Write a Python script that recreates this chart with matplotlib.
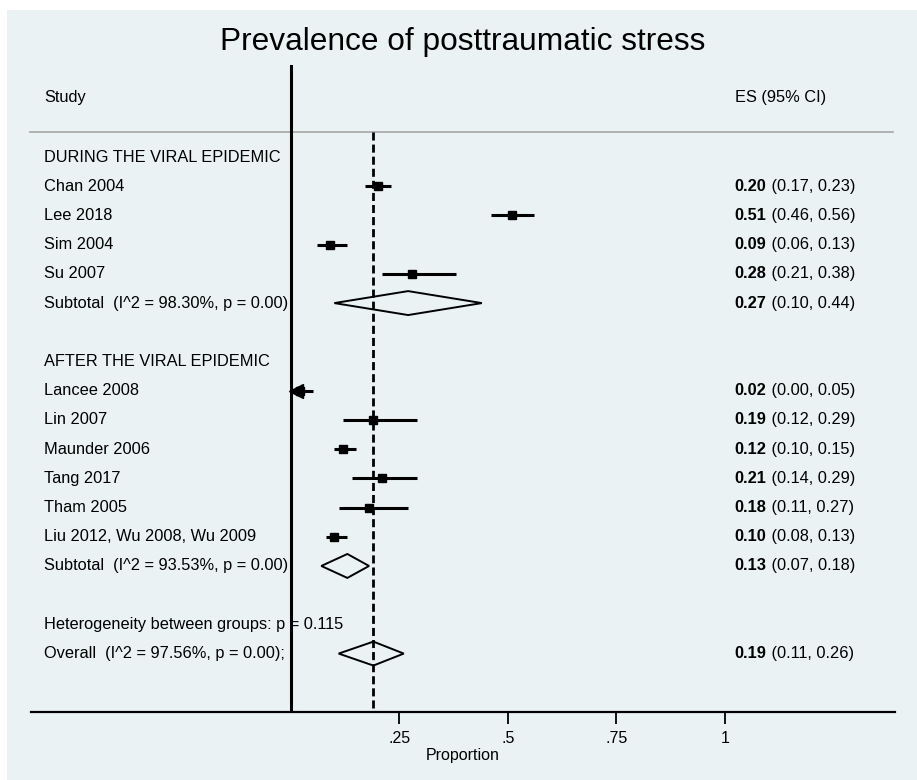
import matplotlib
matplotlib.use("Agg")
import matplotlib.pyplot as plt
import matplotlib.patches as mpatches
import numpy as np

plt.rcParams['font.family'] = ['Liberation Sans', 'DejaVu Sans']

# --- study data ---
group1_label = "DURING THE VIRAL EPIDEMIC"
group1_studies = ["Chan 2004", "Lee 2018", "Sim 2004", "Su 2007"]
group1_es = [0.20, 0.51, 0.09, 0.28]
group1_lo = [0.17, 0.46, 0.06, 0.21]
group1_hi = [0.23, 0.56, 0.13, 0.38]
group1_sub = (0.27, 0.10, 0.44)
group1_sub_label = "Subtotal  (I^2 = 98.30%, p = 0.00)"

group2_label = "AFTER THE VIRAL EPIDEMIC"
group2_studies = ["Lancee 2008", "Lin 2007", "Maunder 2006", "Tang 2017",
                  "Tham 2005", "Liu 2012, Wu 2008, Wu 2009"]
group2_es = [0.02, 0.19, 0.12, 0.21, 0.18, 0.10]
group2_lo = [0.00, 0.12, 0.10, 0.14, 0.11, 0.08]
group2_hi = [0.05, 0.29, 0.15, 0.29, 0.27, 0.13]
group2_sub = (0.13, 0.07, 0.18)
group2_sub_label = "Subtotal  (I^2 = 93.53%, p = 0.00)"

het_label = "Heterogeneity between groups: p = 0.115"
overall = (0.19, 0.11, 0.26)
overall_label = "Overall  (I^2 = 97.56%, p = 0.00);"

xticks = [0.25, 0.5, 0.75, 1.0]
xticklabels = [".25", ".5", ".75", "1"]

BG = "#EAF2F3"
W, H = 917, 780
fig = plt.figure(figsize=(W / 100, H / 100), dpi=100, facecolor="white")
fig.patches.append(mpatches.Rectangle((7 / W, 0), 1, 1 - 10 / H, transform=fig.transFigure,
                                      facecolor=BG, edgecolor="none", zorder=-10))

ax = fig.add_axes([31 / W, (H - 712) / H, 864 / W, (712 - 10) / H])
ax.set_facecolor("none")
ax.set_xlim(-0.599, 1.392)
ax.set_ylim(19.0, -5.034)
for s in ["top", "right", "left"]:
    ax.spines[s].set_visible(False)
ax.spines["bottom"].set_linewidth(1.6)
ax.set_yticks([])
ax.set_xticks(xticks)
ax.set_xticklabels(xticklabels, fontsize=11.5)
ax.tick_params(axis="x", direction="out", length=8.5, width=1.3, pad=5.5)
ax.set_xlabel("Proportion", fontsize=11.5, labelpad=1)

fig.text(0.505, 1 - 42 / H, "Prevalence of posttraumatic stress", fontsize=22.8,
         ha="center", va="center")

x_left = -0.569
x_es = 1.023
fs = 11.8

ax.text(x_left, -2.05, "Study", fontsize=fs, va="center")
ax.text(x_es, -2.05, "ES (95% CI)", fontsize=fs, va="center")
ax.plot([-0.602, 1.387], [-0.85, -0.85], color="#A6A6A6", lw=1.2, clip_on=False)


def es_text(y, es, lo, hi):
    t = ax.text(x_es, y, f"{es:.2f}", fontsize=fs, fontweight="bold", va="center")
    ax.annotate(f" ({lo:.2f}, {hi:.2f})", xy=(1, 0), xycoords=t, fontsize=fs,
                va="bottom", ha="left")


def diamond(y, est, lo, hi):
    h = 0.41
    poly = mpatches.Polygon([(lo, y), (est, y - h), (hi, y), (est, y + h)], closed=True,
                            facecolor="none", edgecolor="black", lw=1.4, zorder=4)
    ax.add_patch(poly)


row = 0
for label, studies, es, lo, hi, sub, sub_label in [
        (group1_label, group1_studies, group1_es, group1_lo, group1_hi, group1_sub, group1_sub_label),
        (group2_label, group2_studies, group2_es, group2_lo, group2_hi, group2_sub, group2_sub_label)]:
    ax.text(x_left, row, label, fontsize=fs, va="center")
    row += 1
    for name, e, l, h in zip(studies, es, lo, hi):
        ax.text(x_left, row, name, fontsize=fs, va="center")
        ax.plot([l, h], [row, row], color="black", lw=2.2, solid_capstyle="butt", zorder=3)
        ax.plot(e, row, marker="s", color="black", markersize=6.3, zorder=4)
        if l <= 0:
            # CI runs past the left edge: arrowhead at the axis
            ax.plot(0.012, row, marker="<", color="black", markersize=10, zorder=4)
        es_text(row, e, l, h)
        row += 1
    ax.text(x_left, row, sub_label, fontsize=fs, va="center")
    diamond(row, *sub)
    es_text(row, *sub)
    row += 2

ax.text(x_left, row, het_label, fontsize=fs, va="center")
row += 1
ax.text(x_left, row, overall_label, fontsize=fs, va="center")
diamond(row, *overall)
es_text(row, *overall)

# reference lines
ax.plot([0, 0], [-3.1, 19.0], color="black", lw=2.2, zorder=5)
ax.plot([overall[0], overall[0]], [-0.85, 19.0], color="black", lw=2.0,
        linestyle=(0, (2.9, 1.45)), zorder=5)

fig.savefig("out.png", dpi=100, facecolor=fig.get_facecolor())
